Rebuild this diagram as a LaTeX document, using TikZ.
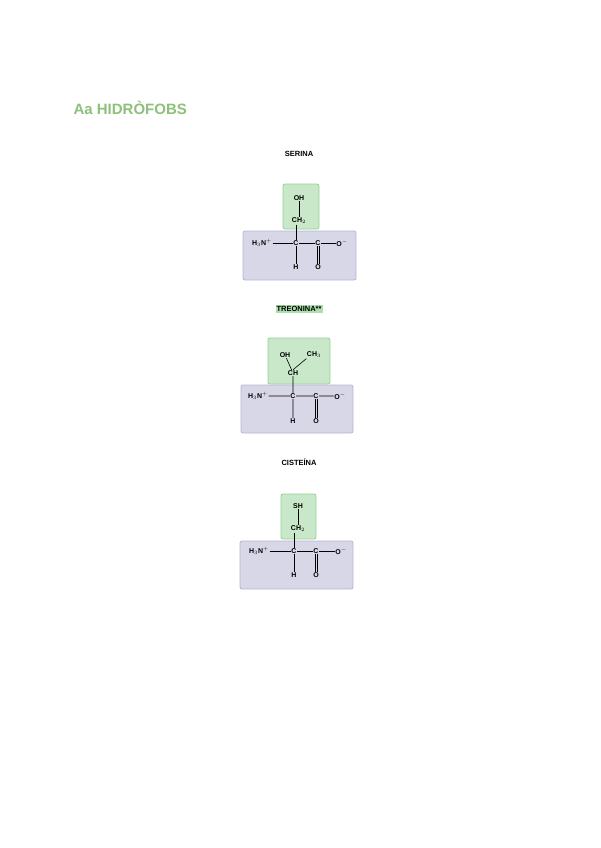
\documentclass[tikz,border=0pt]{standalone}
\usepackage{fontspec}
\setmainfont{Liberation Sans}
\begin{document}
\begin{tikzpicture}[x=1pt,y=-1pt,
  atm/.style={font=\bfseries\fontsize{7}{8}\selectfont,inner sep=0.5pt},
  lbl/.style={font=\bfseries\fontsize{7.5}{9}\selectfont},
  gbox/.style={fill=green!40!gray!30!white,draw=green!40!gray!60!white,rounded corners=2pt,line width=0.8pt},
  pbox/.style={fill=blue!25!gray!25!white,draw=blue!30!gray!45!white,rounded corners=2pt,line width=0.8pt},
  bd/.style={line width=0.6pt}]
\useasboundingbox (0,0) rectangle (600,848);
\definecolor{titlegreen}{HTML}{8DC07A}
\node[anchor=west,font=\bfseries\fontsize{15}{18}\selectfont,text=titlegreen] (title) at (70,108) {Aa HIDRÒFOBS};
% SERINA
\node[lbl] (l1) at (299,154) {SERINA};
\draw[gbox] (283,184) rectangle (319,229);
\draw[pbox] (243,231) rectangle (356,280);
\node[atm] (s1) at (299,198) {OH};
\node[atm] (s2) at (299,221) {CH$_2$};
\node[atm] (n1) at (262,243) {H$_3$N$^+$};
\node[atm] (a1) at (296,243) {C};
\node[atm] (c1) at (318,243) {C};
\node[atm] (o1) at (342,243) {O$^-$};
\node[atm] (h1) at (296,267) {H};
\node[atm] (d1) at (318,267) {O};
\draw[bd] (s1)--(s1|-s2.north) (s2.south-|a1)--(a1) (n1)--(a1) (a1)--(c1) (c1)--(o1) (a1)--(h1);
\draw[bd] ([xshift=-1pt]c1.south)--([xshift=-1pt]d1.north) ([xshift=1pt]c1.south)--([xshift=1pt]d1.north);
% TREONINA
\node[lbl,fill=green!45!gray!45!white,inner sep=1pt] (l2) at (299,309) {TREONINA**};
\draw[gbox] (268,338) rectangle (330,384);
\draw[pbox] (241,385) rectangle (353,433);
\node[atm] (t1) at (285,355) {OH};
\node[atm] (t2) at (314,355) {CH$_3$};
\node[atm] (t3) at (293,373) {CH};
\node[atm] (n2) at (258,396) {H$_3$N$^+$};
\node[atm] (a2) at (293,396) {C};
\node[atm] (c2) at (316,396) {C};
\node[atm] (o2) at (340,396) {O$^-$};
\node[atm] (h2) at (293,421) {H};
\node[atm] (d2) at (316,421) {O};
\draw[bd] (t1)--(t3) (t2.south west)--(t3.north) (t3)--(a2) (n2)--(a2) (a2)--(c2) (c2)--(o2) (a2)--(h2);
\draw[bd] ([xshift=-1pt]c2.south)--([xshift=-1pt]d2.north) ([xshift=1pt]c2.south)--([xshift=1pt]d2.north);
% CISTEINA
\node[lbl] (l3) at (299,462) {CISTEÍNA};
\draw[gbox] (281,494) rectangle (316,539);
\draw[pbox] (240,541) rectangle (353,589);
\node[atm] (u1) at (298,506) {SH};
\node[atm] (u2) at (298,529) {CH$_2$};
\node[atm] (n3) at (259,551) {H$_3$N$^+$};
\node[atm] (a3) at (294,551) {C};
\node[atm] (c3) at (316,551) {C};
\node[atm] (o3) at (341,551) {O$^-$};
\node[atm] (h3) at (294,575) {H};
\node[atm] (d3) at (316,575) {O};
\draw[bd] (u1)--(u1|-u2.north) (u2.south-|a3)--(a3) (n3)--(a3) (a3)--(c3) (c3)--(o3) (a3)--(h3);
\draw[bd] ([xshift=-1pt]c3.south)--([xshift=-1pt]d3.north) ([xshift=1pt]c3.south)--([xshift=1pt]d3.north);
\end{tikzpicture}
\end{document}
